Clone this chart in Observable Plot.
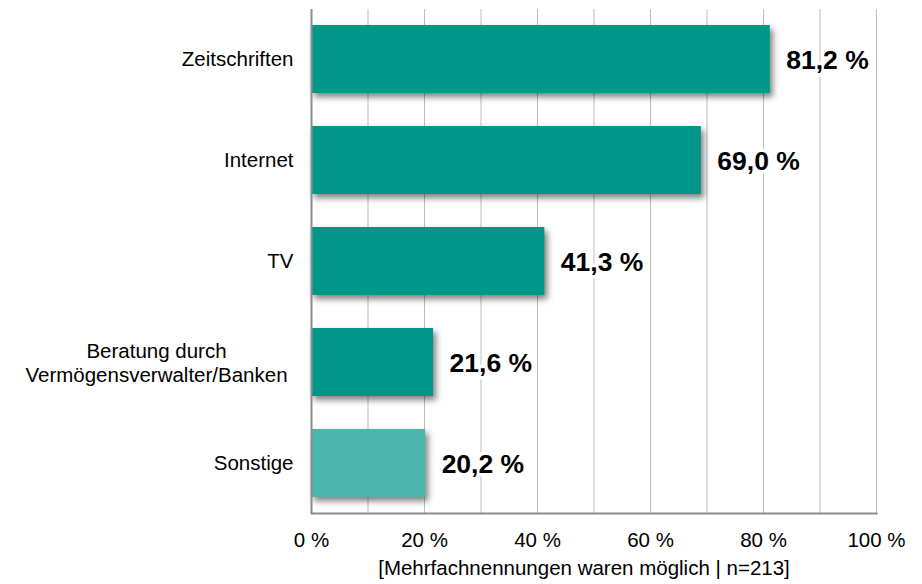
<!DOCTYPE html>
<html>
<head>
<meta charset="utf-8">
<script src="https://cdn.jsdelivr.net/npm/d3@7"></script>
<script src="https://cdn.jsdelivr.net/npm/@observablehq/plot@0.6"></script>
<style>
  html, body { margin: 0; padding: 0; background: #fff; }
  #chart svg { display: block; }
</style>
</head>
<body>
<div id="chart"></div>
<script>
const categories = ["Zeitschriften", "Internet", "TV", "Beratung durch\nVermögensverwalter/Banken", "Sonstige"];
const values = [81.2, 69.0, 41.3, 21.6, 20.2];
const colors = ["#009688", "#009688", "#009688", "#009688", "#4db6ac"];
const xTicks = [0, 20, 40, 60, 80, 100];
const gridTicks = [10, 20, 30, 40, 50, 60, 70, 80, 90, 100];
const footer = "[Mehrfachnennungen waren möglich | n=213]";

const data = categories.map((c, i) => ({
  category: c,
  value: values[i],
  color: colors[i],
  label: values[i].toFixed(1).replace(".", ",") + " %"
}));

const font = "'Liberation Sans', Arial, Helvetica, sans-serif";

const chart = Plot.plot({
  width: 922,
  height: 584,
  marginTop: 9,
  marginBottom: 71,
  marginLeft: 311,
  marginRight: 46,
  style: { fontFamily: font, fontSize: "20.5px", color: "#000", background: "#fff", overflow: "visible" },
  x: { domain: [0, 100] },
  y: { domain: categories, paddingInner: 0.33, paddingOuter: 0.15 },
  color: { type: "identity" },
  marks: [
    Plot.gridX(gridTicks, { stroke: "#bdbdbd", strokeOpacity: 1, strokeWidth: 1 }),
    Plot.barX(data, {
      x: "value", y: "category", fill: "color",
      imageFilter: "drop-shadow(3px 4px 3px rgba(0,0,0,0.5))"
    }),
    Plot.ruleX([0], { stroke: "#8c8c8c", strokeWidth: 2 }),
    Plot.frame({ anchor: "bottom", stroke: "#8c8c8c", strokeWidth: 2 }),
    Plot.axisX(xTicks, {
      tickSize: 0, tickPadding: 19, fontSize: 20.5, fill: "#000",
      tickFormat: d => d + " %", label: null
    }),
    Plot.axisY({
      tickSize: 0, tickPadding: 18, fontSize: 20.5, fill: "#000", label: null,
      tickFormat: d => d.includes("\n") ? "" : d
    }),
    Plot.text(data.filter(d => d.category.includes("\n")), {
      frameAnchor: "left", y: "category", text: "category",
      textAnchor: "middle", dx: -155, lineHeight: 1.17, fontSize: 20.5, fill: "#000"
    }),
    Plot.text(data, {
      x: "value", y: "category", text: "label",
      textAnchor: "start", dx: 16, dy: 1,
      fontSize: 26.5, fontWeight: "bold", fill: "#000",
      stroke: "#fff", strokeWidth: 7, paintOrder: "stroke"
    }),
    Plot.text([footer], {
      frameAnchor: "bottom", text: d => d, dy: 61, dx: -10,
      fontSize: 20.5, fill: "#000"
    })
  ]
});

document.getElementById("chart").appendChild(chart);
</script>
</body>
</html>
